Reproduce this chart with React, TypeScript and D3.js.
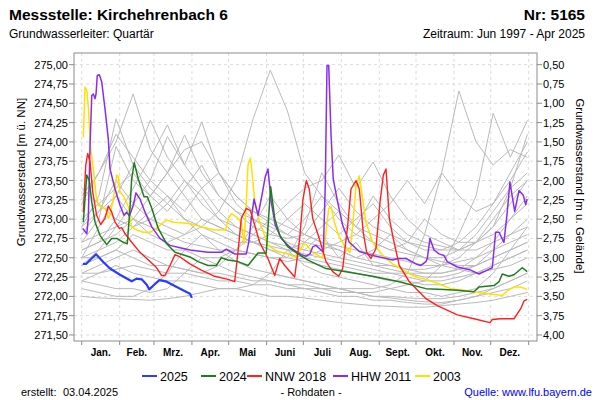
import React from "react";
import * as d3 from "d3";

// ---------- DATA ----------
const MONTH_STARTS = [0, 31, 59, 90, 120, 151, 181, 212, 243, 273, 304, 334, 365];
const MONTH_LABELS = ["Jan.", "Feb.", "Mrz.", "Apr.", "Mai", "Juni", "Juli", "Aug.", "Sept.", "Okt.", "Nov.", "Dez."];
const LEFT_TICKS = [271.5, 271.75, 272.0, 272.25, 272.5, 272.75, 273.0, 273.25, 273.5, 273.75, 274.0, 274.25, 274.5, 274.75, 275.0];
const RIGHT_TICKS = [0.5, 0.75, 1.0, 1.25, 1.5, 1.75, 2.0, 2.25, 2.5, 2.75, 3.0, 3.25, 3.5, 3.75, 4.0];
const GROUND_LEVEL = 275.5;

// grey years (days-of-year grid shared by all grey series)
const GREY_DAYS = [0, 14, 28, 42, 56, 70, 84, 98, 112, 126, 140, 154, 168, 182, 196, 210, 224, 238, 252, 266, 280, 294, 308, 322, 336, 350, 364];
const GREY_1 = [273.3, 273.6, 274.0, 274.62, 273.9, 273.6, 273.3, 273.0, 272.9, 272.8, 272.7, 272.6, 272.55, 272.5, 272.45, 272.4, 272.35, 272.3, 272.3, 272.25, 272.2, 272.2, 272.25, 272.3, 272.4, 272.5, 272.6];
const GREY_2 = [272.9, 273.3, 274.3, 273.7, 274.28, 273.8, 273.5, 273.2, 273.0, 272.9, 272.8, 272.7, 272.6, 272.55, 272.5, 272.45, 272.4, 272.35, 272.3, 272.3, 272.25, 272.25, 272.3, 272.4, 272.6, 272.8, 273.0];
const GREY_3 = [272.6, 272.7, 273.0, 273.4, 273.8, 274.22, 273.7, 274.26, 273.6, 273.3, 273.1, 272.95, 272.8, 272.7, 272.65, 272.6, 272.5, 272.45, 272.4, 272.35, 272.3, 272.3, 272.35, 272.4, 272.5, 272.6, 272.7];
const GREY_4 = [272.5, 272.6, 272.7, 272.9, 273.0, 272.9, 272.8, 272.9, 273.1, 273.5, 274.3, 274.93, 274.4, 273.6, 273.3, 273.1, 272.9, 272.8, 272.7, 272.6, 272.5, 272.45, 272.4, 272.4, 272.5, 272.6, 272.7];
const GREY_5 = [272.4, 272.5, 272.6, 272.8, 272.7, 272.6, 272.6, 272.5, 272.5, 272.6, 272.8, 273.0, 273.2, 273.4, 273.5, 273.83, 273.4, 273.74, 273.3, 273.0, 272.8, 272.7, 272.6, 272.6, 272.7, 272.8, 272.9];
const GREY_6 = [272.5, 272.5, 272.6, 272.5, 272.4, 272.4, 272.35, 272.3, 272.3, 272.25, 272.2, 272.2, 272.15, 272.15, 272.1, 272.1, 272.1, 272.1, 272.15, 272.3, 272.8, 273.6, 274.66, 274.0, 273.7, 273.9, 273.8];
const GREY_7 = [272.3, 272.3, 272.35, 272.4, 272.35, 272.3, 272.3, 272.25, 272.2, 272.2, 272.15, 272.15, 272.1, 272.1, 272.1, 272.05, 272.05, 272.05, 272.1, 272.15, 272.2, 272.4, 272.8, 273.3, 274.37, 273.8, 274.28];
const GREY_8 = [272.7, 272.8, 272.9, 273.0, 272.9, 272.8, 272.7, 272.65, 272.6, 272.6, 272.55, 272.5, 272.45, 272.5, 272.6, 272.7, 272.8, 273.0, 273.2, 273.5, 273.2, 273.6, 273.3, 273.1, 273.2, 273.5, 273.87];
const GREY_9 = [272.0, 271.98, 271.97, 271.96, 271.95, 271.97, 272.0, 272.05, 272.1, 272.1, 272.05, 272.0, 272.0, 271.98, 271.95, 271.92, 271.9, 271.88, 271.87, 271.86, 271.86, 271.88, 271.9, 271.92, 271.95, 272.0, 272.05];
const GREY_10 = [272.2, 272.15, 272.1, 272.1, 272.05, 272.1, 272.3, 272.5, 272.4, 272.3, 272.25, 272.2, 272.15, 272.1, 272.05, 272.0, 272.0, 271.95, 271.95, 271.92, 271.9, 271.9, 271.95, 272.0, 272.05, 272.1, 272.2];
const GREY_11 = [272.8, 273.1, 273.5, 273.2, 273.0, 273.2, 273.5, 273.3, 273.0, 272.8, 272.7, 272.6, 272.5, 272.45, 272.4, 272.35, 272.3, 272.25, 272.2, 272.2, 272.15, 272.15, 272.2, 272.3, 272.4, 272.5, 272.6];
const GREY_12 = [272.4, 272.6, 272.9, 273.2, 273.5, 273.3, 273.1, 273.4, 273.6, 273.2, 273.0, 272.85, 272.7, 272.6, 272.8, 272.5, 272.7, 272.4, 272.35, 272.3, 272.3, 272.3, 272.35, 272.5, 272.7, 273.0, 273.3];
const GREY_13 = [272.3, 272.4, 272.5, 272.6, 272.5, 272.4, 272.35, 272.3, 272.4, 272.6, 272.9, 273.3, 273.0, 272.8, 272.7, 272.6, 272.5, 272.6, 272.8, 272.6, 272.5, 272.4, 272.35, 272.3, 272.35, 272.4, 272.5];
const GREY_14 = [273.0, 273.2, 273.4, 273.6, 273.3, 273.1, 273.4, 273.7, 273.3, 273.1, 273.0, 272.9, 272.8, 273.0, 273.3, 273.0, 272.8, 272.7, 272.6, 272.55, 272.5, 272.5, 272.6, 272.8, 273.1, 273.4, 273.6];
const GREY_15 = [null, null, null, null, null, null, null, null, null, null, null, 272.3, 272.25, 272.2, 272.15, 272.1, 272.05, 272.0, 271.98, 271.95, 271.93, 271.92, 271.95, 272.0, 272.1, 272.2, 272.3];
const GREY_16 = [272.6, 272.7, 272.8, 273.0, 273.3, 273.6, 273.9, 274.0, 273.6, 273.3, 273.1, 273.0, 272.9, 272.8, 272.7, 272.65, 272.6, 272.55, 272.5, 272.45, 272.4, 272.4, 272.45, 272.5, 272.6, 272.7, 272.8];
const GREY_17 = [272.2, 272.3, 272.4, 272.3, 272.25, 272.2, 272.2, 272.15, 272.1, 272.1, 272.15, 272.3, 272.6, 272.4, 272.3, 272.25, 272.2, 272.15, 272.1, 272.05, 272.05, 272.0, 272.05, 272.1, 272.3, 272.6, 272.9];
const GREY_18 = [273.4, 273.2, 273.0, 272.9, 273.1, 273.3, 273.0, 272.9, 272.8, 272.7, 272.7, 272.8, 273.0, 273.2, 273.0, 272.8, 273.0, 273.2, 272.9, 272.7, 272.6, 272.6, 272.7, 272.9, 273.2, 273.6, 274.0];
const GREY_19 = [272.1, 272.05, 272.0, 272.0, 272.1, 272.3, 272.6, 272.8, 272.6, 272.45, 272.35, 272.3, 272.25, 272.2, 272.15, 272.1, 272.05, 272.0, 272.0, 271.98, 271.97, 271.97, 272.0, 272.05, 272.1, 272.2, 272.3];
const GREY_20 = [272.5, 272.9, 273.3, 273.0, 272.8, 272.7, 272.8, 273.0, 272.9, 272.8, 272.7, 272.65, 272.6, 272.7, 272.9, 273.1, 272.9, 272.7, 272.6, 272.7, 273.0, 272.8, 272.7, 272.7, 272.9, 273.2, 273.5];
const GREY_21 = [273.2, 273.6, 274.1, 273.8, 273.5, 274.07, 273.7, 273.4, 273.1, 272.9, 272.8, 272.7, 272.65, 272.6, 272.55, 272.5, 272.45, 272.4, 272.4, 272.35, 272.35, 272.4, 272.5, 272.7, 273.0, 273.3, 273.5];
const GREY_22 = [272.7, 273.0, 273.94, 273.5, 273.3, 273.6, 274.09, 273.6, 273.3, 273.1, 272.9, 272.8, 272.75, 272.8, 273.1, 273.4, 273.1, 272.9, 272.8, 272.7, 272.65, 272.6, 272.6, 272.7, 272.8, 273.0, 273.2];
const GREY_23 = [272.9, 273.1, 273.3, 273.7, 273.4, 273.2, 273.0, 272.8, 272.7, 272.6, 272.55, 272.5, 272.5, 272.9, 273.6, 273.2, 272.9, 273.3, 273.0, 272.8, 272.7, 272.65, 272.6, 272.7, 272.9, 273.4, 274.1];
const GREY_SERIES = [GREY_1, GREY_2, GREY_3, GREY_4, GREY_5, GREY_6, GREY_7, GREY_8, GREY_9, GREY_10, GREY_11, GREY_12, GREY_13, GREY_14, GREY_15, GREY_16, GREY_17, GREY_18, GREY_19, GREY_20, GREY_21, GREY_22, GREY_23];

// highlighted years: [day-of-year, level m ü. NN]
const Y2025: [number, number][] = [[1, 272.42], [3.5, 272.42], [11.7, 272.545], [17.6, 272.445], [23.1, 272.36], [31.3, 272.28], [40.8, 272.195], [44.9, 272.23], [49, 272.22], [53.1, 272.15], [55.2, 272.09], [58.5, 272.14], [63.4, 272.21], [69.4, 272.19], [77.6, 272.12], [88.4, 272.035], [90, 271.98]];
const Y2024: [number, number][] = [[1.3, 272.96], [4.1, 273.57], [6.2, 273.5], [8.2, 273.22], [10.9, 272.96], [14.9, 272.79], [20.4, 272.67], [24.5, 272.75], [28.6, 272.75], [34, 272.7], [37.2, 272.68], [39.4, 273.14], [40.8, 273.52], [42.9, 273.73], [46.2, 273.52], [50.9, 273.29], [53.6, 273.29], [57.2, 273.14], [62.5, 272.88], [69.4, 272.68], [76.2, 272.57], [88.4, 272.51], [95, 272.45], [103.1, 272.4], [109.9, 272.4], [114, 272.5], [119.5, 272.47], [127.6, 272.45], [135.8, 272.4], [141.3, 272.51], [144, 272.56], [150.7, 272.56], [154.3, 273.42], [157.6, 273.01], [161.7, 272.79], [168.4, 272.64], [176.6, 272.55], [184.8, 272.47], [199.5, 272.36], [215.8, 272.32], [237.6, 272.26], [259.3, 272.19], [281.1, 272.1], [295.8, 272.09], [306.7, 272.08], [320.3, 272.06], [324.4, 272.12], [336.7, 272.14], [340.8, 272.19], [343.4, 272.29], [348.9, 272.26], [353, 272.28], [359.8, 272.37], [363.8, 272.32]];
const NNW2018: [number, number][] = [[1.3, 273.09], [3.3, 273.7], [4.9, 273.85], [6.8, 273.74], [9, 273.35], [12.2, 273.05], [15.5, 272.93], [19, 273.01], [21.7, 273.17], [24.5, 273.09], [27.2, 272.96], [30.7, 272.88], [32.7, 272.89], [35.4, 272.81], [40.8, 272.7], [47.6, 272.57], [55.8, 272.45], [61.2, 272.37], [65.3, 272.27], [68, 272.27], [72.1, 272.4], [76.2, 272.54], [80.3, 272.51], [85.7, 272.45], [88.4, 272.42], [97.7, 272.34], [108.6, 272.26], [119.5, 272.22], [124.9, 272.19], [127.6, 272.57], [130.3, 273.01], [134.4, 273.14], [137.7, 273.11], [141.3, 272.92], [145.3, 272.7], [152.1, 272.49], [157.6, 272.27], [161.7, 272.49], [165.8, 272.4], [173.9, 272.25], [178, 272.75], [180.7, 273.26], [183.4, 273.5], [185.8, 273.39], [188.6, 273.01], [194, 272.75], [199.5, 272.45], [205, 272.32], [209.9, 272.26], [213.1, 272.36], [217.2, 272.92], [219.9, 273.39], [224, 273.5], [226.7, 273.39], [229.9, 272.83], [232.7, 272.57], [236.2, 272.49], [240.3, 272.62], [243.6, 273.22], [246.3, 273.57], [248.5, 273.65], [251.2, 273.01], [254.4, 272.75], [259.3, 272.4], [267.5, 272.19], [281.1, 271.97], [290.4, 271.88], [306.7, 271.76], [320.3, 271.71], [333.4, 271.66], [335.3, 271.7], [342.1, 271.71], [353, 271.71], [358.5, 271.84], [361.2, 271.94], [363.8, 271.96]];
const HHW2011: [number, number][] = [[0.8, 272.88], [4.1, 272.81], [5.4, 273.01], [6.8, 273.96], [8.2, 274.6], [9.5, 274.62], [10.9, 274.56], [11.7, 274.62], [12.7, 274.86], [14.4, 274.87], [16.3, 274.78], [19, 274.43], [21.7, 274.04], [23.1, 273.65], [27.2, 273.39], [31.3, 273.18], [34.5, 273.05], [36.7, 273.09], [38.9, 273.04], [42.1, 273.18], [44.3, 273.34], [47.6, 273.26], [51.7, 273.09], [57.2, 272.9], [63.9, 272.75], [72.1, 272.66], [80.3, 272.63], [88.4, 272.6], [103.1, 272.57], [114, 272.57], [118.1, 272.61], [124.9, 272.55], [134.4, 272.55], [136.4, 272.7], [138.5, 273.01], [140.7, 273.26], [144, 273.05], [147.2, 273.31], [149.9, 273.55], [152.1, 273.65], [154.8, 273.22], [158.1, 272.92], [163, 272.75], [171.1, 272.62], [179.3, 272.54], [183.1, 272.52], [186.4, 272.55], [188.6, 272.64], [191.3, 272.66], [195.4, 272.6], [197.3, 272.57], [198.9, 273.44], [200.3, 274.99], [201.7, 274.99], [203.6, 274.09], [205.4, 273.52], [209, 273.22], [213.1, 272.92], [218.5, 272.7], [226.7, 272.58], [237.6, 272.53], [248.5, 272.49], [253.9, 272.47], [258, 272.49], [264.8, 272.49], [273, 272.42], [277, 272.4], [281.1, 272.45], [282.2, 272.49], [284.4, 272.75], [287.7, 272.6], [291.8, 272.55], [295.8, 272.53], [298.5, 272.45], [306.7, 272.38], [317.6, 272.34], [324.4, 272.29], [331.2, 272.34], [335.3, 272.37], [338, 272.83], [340.8, 272.83], [344.8, 272.7], [347.5, 273.09], [349.7, 273.48], [353.6, 273.1], [357.1, 273.37], [360.6, 273.31], [362.5, 273.19], [363.8, 273.26]];
const Y2003: [number, number][] = [[1.3, 274.06], [2.7, 274.71], [4.1, 274.67], [5.4, 274.45], [7.3, 273.91], [9.5, 273.65], [11.7, 273.31], [13.6, 273.18], [17.6, 273.14], [19.8, 273.14], [21.7, 273.01], [23.1, 273.05], [25.8, 273.26], [28.6, 273.57], [29.9, 273.55], [31.3, 273.35], [33.5, 273.31], [35.4, 273.26], [38.1, 273.16], [40.8, 272.9], [44.9, 272.86], [50.3, 272.83], [55.8, 272.83], [60.7, 272.88], [65.3, 272.94], [69.4, 272.99], [74.8, 272.96], [83, 272.95], [88.4, 272.94], [97.7, 272.9], [108.6, 272.86], [117.3, 272.86], [120, 273.01], [122.2, 273.07], [126.2, 273.03], [130.3, 272.96], [132.5, 272.68], [134.4, 273.22], [135.8, 273.7], [137.7, 273.79], [139.1, 273.61], [141.3, 273.22], [145.3, 272.96], [149.4, 272.79], [152.1, 272.66], [160.3, 272.58], [168.4, 272.55], [173.9, 272.51], [179.3, 272.62], [180.7, 272.68], [183.4, 272.67], [188.6, 272.57], [194, 272.52], [196.8, 272.5], [198.9, 272.75], [201.7, 273.14], [203.6, 273.16], [206.3, 272.96], [210.3, 272.77], [215.8, 272.62], [219.1, 272.57], [221.3, 272.92], [224, 273.44], [226.7, 273.56], [229.4, 273.26], [232.1, 272.96], [237.6, 272.7], [245.8, 272.53], [253.9, 272.42], [264.8, 272.32], [273, 272.25], [281.1, 272.22], [290.4, 272.17], [301.3, 272.1], [312.2, 272.08], [323, 272.05], [334, 272.03], [343.4, 272.01], [347.5, 272.07], [353, 272.12], [358.5, 272.12], [363.8, 272.09]];

const LEGEND_LABELS = ["2025", "2024", "NNW 2018", "HHW 2011", "2003"];
const LEGEND_COLORS = ["#2a3cff", "#1e7d1e", "#ff2020", "#8a2cf0", "#ffe000"];

// ---------- LAYOUT ----------
const W = 600, H = 400;
const PL = 74, PR = 537, PT = 53, PB = 341;
const FONT = "'Liberation Sans', Arial, Helvetica, sans-serif";

export default function App() {
  const x = d3.scaleLinear().domain([-6.3, 371.8]).range([PL, PR]);
  const y = d3.scaleLinear().domain([271.422, 275.151]).range([PB, PT]);
  const yR = d3.scaleLinear().domain([GROUND_LEVEL - 271.422, GROUND_LEVEL - 275.151]).range([PB, PT]);
  const fmt = (v: number) => d3.format(".2f")(v).replace(".", ",");

  const line = d3.line<[number, number | null]>()
    .defined((d) => d[1] != null)
    .x((d) => x(d[0]))
    .y((d) => y(d[1] as number));

  const highlighted = [
    { data: Y2003, color: LEGEND_COLORS[4], w: 1.5 },
    { data: HHW2011, color: LEGEND_COLORS[3], w: 1.5 },
    { data: NNW2018, color: LEGEND_COLORS[2], w: 1.4 },
    { data: Y2024, color: LEGEND_COLORS[1], w: 1.5 },
    { data: Y2025, color: LEGEND_COLORS[0], w: 2.2 },
  ];

  const legendX = [142, 201, 247, 333, 415];

  return (
    <svg width={W} height={H} style={{ position: "absolute", left: 0, top: 0, background: "#fff" }} fontFamily={FONT}>
      <rect x={0} y={0} width={W} height={H} fill="#fff" />
      {/* header */}
      <text x={9} y={20} fontSize={15.5} fontWeight="bold" fill="#000">Messstelle: Kirchehrenbach 6</text>
      <text x={585} y={20} fontSize={15.5} fontWeight="bold" fill="#000" textAnchor="end">Nr: 5165</text>
      <text x={9} y={38} fontSize={12} fill="#000">Grundwasserleiter: Quartär</text>
      <text x={585} y={38} fontSize={12} fill="#000" textAnchor="end">Zeitraum: Jun 1997 - Apr 2025</text>

      <defs>
        <clipPath id="plotclip">
          <rect x={PL} y={PT} width={PR - PL} height={PB - PT} />
        </clipPath>
      </defs>

      {/* grid */}
      {LEFT_TICKS.map((t) => (
        <line key={"hg" + t} x1={PL} x2={PR} y1={y(t)} y2={y(t)} stroke="#dcdcdc" strokeDasharray="3,3" />
      ))}
      {MONTH_STARTS.map((d) => (
        <line key={"vg" + d} x1={x(d)} x2={x(d)} y1={PT} y2={PB} stroke="#dcdcdc" strokeDasharray="3,3" />
      ))}

      {/* lines */}
      <g clipPath="url(#plotclip)" fill="none">
        {GREY_SERIES.map((s, i) => (
          <path key={"g" + i} d={line(GREY_DAYS.map((d, j) => [d, s[j]] as [number, number | null])) || ""} stroke="#bababa" strokeWidth={1} />
        ))}
        {highlighted.map((h, i) => (
          <path key={"h" + i} d={line(h.data) || ""} stroke={h.color} strokeWidth={h.w} strokeLinejoin="round" />
        ))}
      </g>

      {/* frame */}
      <rect x={PL} y={PT} width={PR - PL} height={PB - PT} fill="none" stroke="#8c8c8c" strokeWidth={1} />

      {/* left axis */}
      {LEFT_TICKS.map((t) => (
        <g key={"lt" + t}>
          <line x1={PL - 5} x2={PL} y1={y(t)} y2={y(t)} stroke="#8c8c8c" />
          <text x={PL - 6} y={y(t) + 4} fontSize={11} textAnchor="end" fill="#000">{fmt(t)}</text>
        </g>
      ))}
      {/* right axis */}
      {RIGHT_TICKS.map((t) => (
        <g key={"rt" + t}>
          <line x1={PR} x2={PR + 5} y1={yR(t)} y2={yR(t)} stroke="#8c8c8c" />
          <text x={PR + 6} y={yR(t) + 4} fontSize={11} fill="#000">{fmt(t)}</text>
        </g>
      ))}
      {/* bottom axis */}
      {MONTH_STARTS.map((d) => (
        <line key={"bt" + d} x1={x(d)} x2={x(d)} y1={PB} y2={PB + 4} stroke="#8c8c8c" />
      ))}
      {MONTH_LABELS.map((m, i) => (
        <text key={m} x={x((MONTH_STARTS[i] + MONTH_STARTS[i + 1]) / 2)} y={356} fontSize={10} fontWeight="bold" textAnchor="middle" fill="#000">{m}</text>
      ))}

      {/* axis titles */}
      <text transform={`translate(25,172) rotate(-90)`} fontSize={11.5} textAnchor="middle" fill="#000">Grundwasserstand [m ü. NN]</text>
      <text transform={`translate(576,186) rotate(90)`} fontSize={11.5} textAnchor="middle" fill="#000">Grundwasserstand [m u. Gelände]</text>

      {/* legend */}
      {LEGEND_LABELS.map((l, i) => (
        <g key={l}>
          <line x1={legendX[i]} x2={legendX[i] + 15} y1={376} y2={376} stroke={LEGEND_COLORS[i]} strokeWidth={2} />
          <text x={legendX[i] + 18} y={381} fontSize={12.5} fill="#000">{l}</text>
        </g>
      ))}

      {/* footer */}
      <text x={21} y={396} fontSize={11} fill="#000">erstellt:</text>
      <text x={63} y={396} fontSize={11} fill="#000">03.04.2025</text>
      <text x={311} y={396} fontSize={11} textAnchor="middle" fill="#000">- Rohdaten -</text>
      <text x={592} y={396} fontSize={11} textAnchor="end" fill="#0000ff">Quelle: www.lfu.bayern.de</text>
    </svg>
  );
}
